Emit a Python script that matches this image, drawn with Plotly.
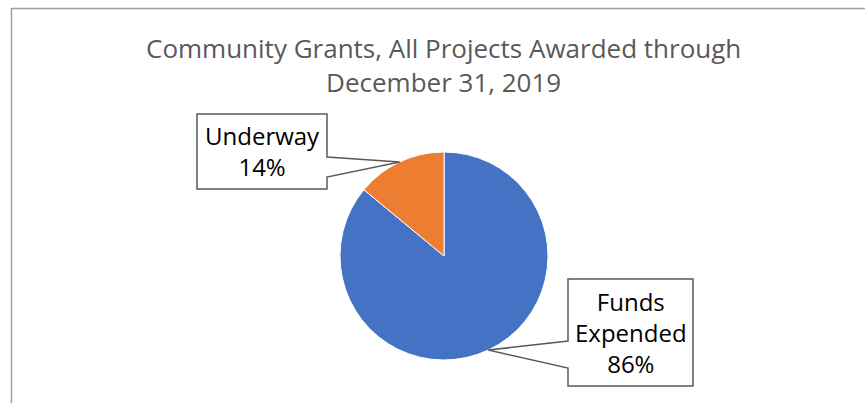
import math
import plotly.graph_objects as go

W, H = 865, 403

# ---- data ----
labels = ["Funds Expended", "Underway"]
values = [86, 14]
colors = ["#4472C4", "#ED7D31"]
label_text = ["Funds<br>Expended<br>86%", "Underway<br>14%"]
title_lines = ["Community Grants, All Projects Awarded through", "December 31, 2019"]

# ---- layout geometry (pixels) ----
cx, cy, r = 444, 256, 104
# callout boxes: (x0, y0, x1, y1, side, wedge_y0, wedge_y1)
boxes = [
    (568, 279, 693, 386, "left", 341, 368),
    (197, 114, 327, 189, "right", 157, 177),
]


def px(x):
    return x / W


def py(y):
    return 1 - y / H


fig = go.Figure(
    go.Pie(
        labels=labels,
        values=values,
        sort=False,
        direction="clockwise",
        rotation=0,
        marker=dict(colors=colors, line=dict(color="white", width=1)),
        textinfo="none",
        hoverinfo="label+percent",
        showlegend=False,
        domain=dict(x=[px(cx - r), px(cx + r)], y=[py(cy + r), py(cy - r)]),
    )
)

shapes = [
    dict(type="rect", xref="paper", yref="paper",
         x0=px(11.5), y0=py(8.5), x1=px(W + 10), y1=py(H + 10),
         line=dict(color="#a0a0a0", width=1.5), fillcolor="rgba(0,0,0,0)", layer="below")
]
annotations = []

total = sum(values)
cum = 0
for i, v in enumerate(values):
    mid = 2 * math.pi * (cum + v / 2) / total
    cum += v
    tx = cx + r * math.sin(mid)
    ty = cy - r * math.cos(mid)
    x0, y0, x1, y1, side, w0, w1 = boxes[i]
    if side == "right":
        pts = [(x0, y0), (x1, y0), (x1, w0), (tx, ty), (x1, w1), (x1, y1), (x0, y1)]
    else:
        pts = [(x0, y0), (x1, y0), (x1, y1), (x0, y1), (x0, w1), (tx, ty), (x0, w0)]
    path = "M " + " L ".join(f"{px(a):.5f},{py(b):.5f}" for a, b in pts) + " Z"
    shapes.append(dict(type="path", xref="paper", yref="paper", path=path,
                       line=dict(color="#5a5a5a", width=1.5), fillcolor="white", layer="above"))
    annotations.append(dict(
        xref="paper", yref="paper", x=px((x0 + x1) / 2), y=py((y0 + y1) / 2),
        xanchor="center", yanchor="middle", showarrow=False, text=label_text[i],
        font=dict(family="Open Sans, Lato, sans-serif", size=24, color="#000000"),
    ))

annotations.append(dict(
    xref="paper", yref="paper", x=px(444), y=py(65), xanchor="center", yanchor="middle",
    showarrow=False, text="<br>".join(title_lines),
    font=dict(family="Open Sans, Lato, sans-serif", size=26, color="#595959"),
))

fig.update_layout(
    width=W, height=H,
    margin=dict(l=0, r=0, t=0, b=0),
    paper_bgcolor="white", plot_bgcolor="white",
    shapes=shapes, annotations=annotations,
)

fig.write_html("out.html")
